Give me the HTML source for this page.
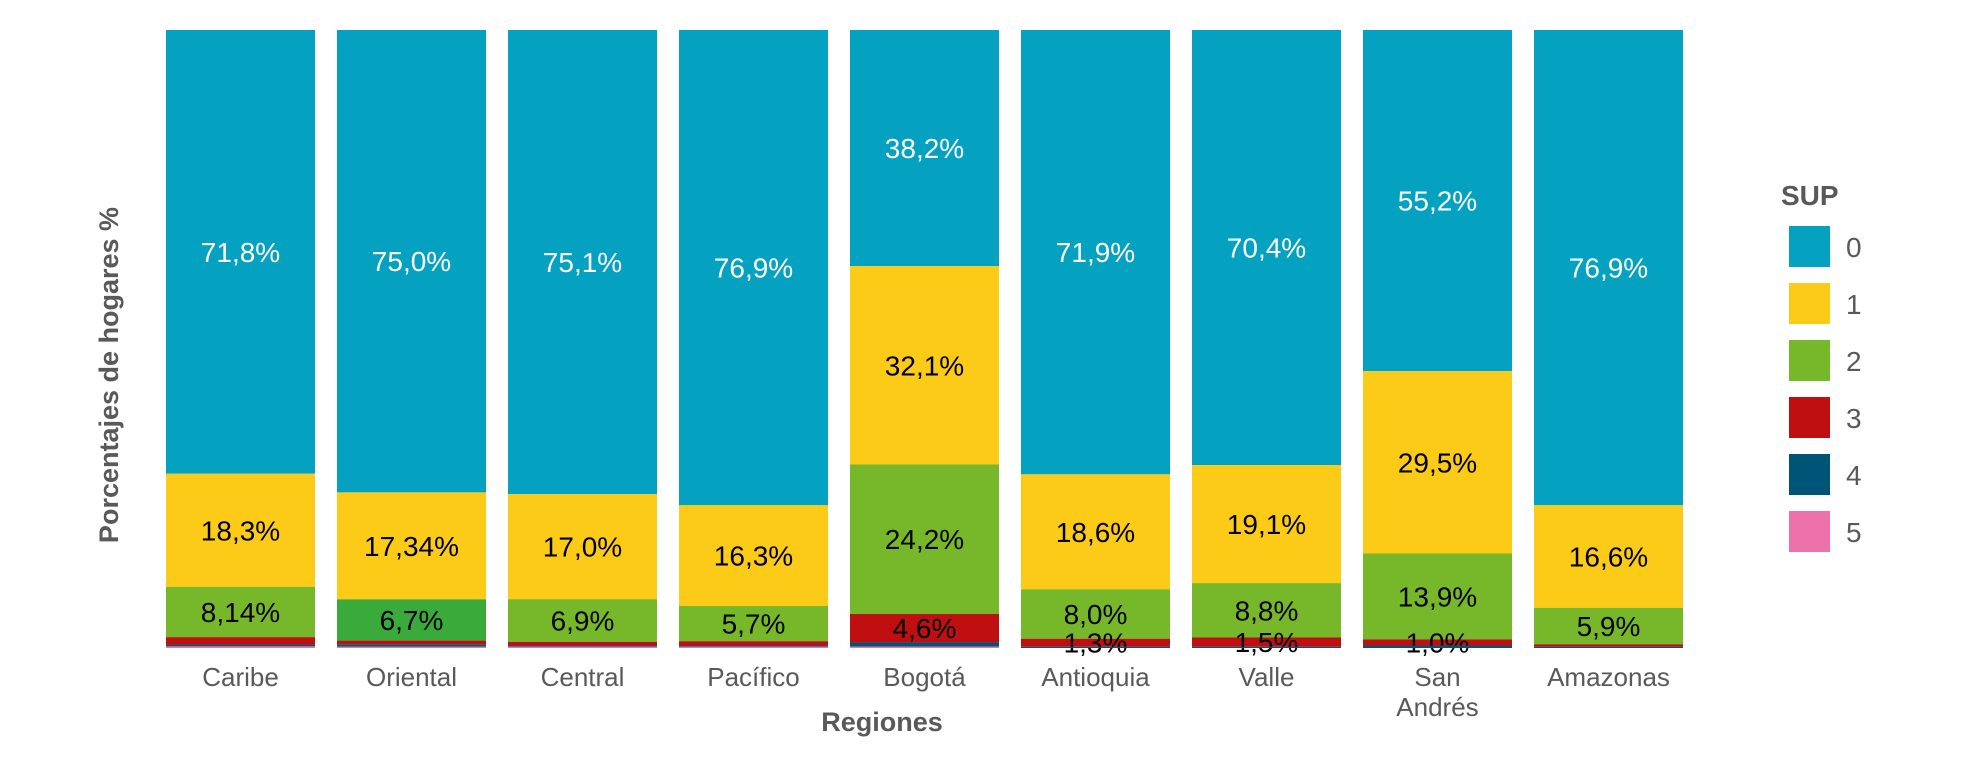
<!DOCTYPE html>
<html><head><meta charset="utf-8"><style>
html,body{margin:0;padding:0;background:#fff;width:1962px;height:760px;overflow:hidden;font-family:"Liberation Sans",sans-serif;}
</style></head><body>
<svg id="chart" width="1962" height="760" xmlns="http://www.w3.org/2000/svg">
<text x="0" y="0" transform="translate(118,375) rotate(-90)" text-anchor="middle" font-size="27" font-weight="bold" fill="#595959">Porcentajes de hogares %</text>
<text x="882" y="731" text-anchor="middle" font-size="27" font-weight="bold" fill="#595959">Regiones</text>
<g id="bars"></g>
<g id="legend">
<text x="1781" y="205" font-size="28" font-weight="bold" fill="#595959">SUP</text>
</g>
</svg>
<script>
const categories = ["Caribe","Oriental","Central","Pacífico","Bogotá","Antioquia","Valle","San|Andrés","Amazonas"];
const seriesNames = ["0","1","2","3","4","5"];
const s0 = [71.8,75.0,75.1,76.9,38.2,71.9,70.4,55.2,76.9];
const s1 = [18.3,17.34,17.0,16.3,32.1,18.6,19.1,29.5,16.6];
const s2 = [8.14,6.7,6.9,5.7,24.2,8.0,8.8,13.9,5.9];
const s3 = [1.2,0.6,0.6,0.7,4.6,1.3,1.5,1.0,0.4];
const s4 = [0.3,0.4,0.2,0.2,0.7,0.2,0.2,0.4,0.2];
const s5 = [0.26,0.2,0.2,0.2,0.2,0.0,0.0,0.0,0.0];
const l0 = ["71,8%","75,0%","75,1%","76,9%","38,2%","71,9%","70,4%","55,2%","76,9%"];
const l1 = ["18,3%","17,34%","17,0%","16,3%","32,1%","18,6%","19,1%","29,5%","16,6%"];
const l2 = ["8,14%","6,7%","6,9%","5,7%","24,2%","8,0%","8,8%","13,9%","5,9%"];
const l3 = ["","","","","4,6%","1,3%","1,5%","1,0%",""];
const series = [s0,s1,s2,s3,s4,s5];
const labels = [l0,l1,l2,l3,null,null];
const colors = ["#04a1c1","#fbcb17","#77b82a","#c00f11","#005577","#ec72a9"];
const NS="http://www.w3.org/2000/svg";
const top0=30, bot=648, x0=166, pitch=171, bw=149;
const xPos = i => x0+i*pitch;
const g=document.getElementById('bars');
categories.forEach((c,i)=>{
  const total = series.reduce((a,s)=>a+s[i],0);
  let y=top0;
  series.forEach((s,k)=>{
    const h=(bot-top0)*s[i]/total;
    const r=document.createElementNS(NS,'rect');
    r.setAttribute('x',xPos(i));r.setAttribute('y',y);r.setAttribute('width',bw);r.setAttribute('height',Math.max(h,0));
    r.setAttribute('fill',(k==2&&i==1)?'#3aaa3a':colors[k]);
    
    
    g.appendChild(r);
    if(labels[k]&&labels[k][i]){
      const t=document.createElementNS(NS,'text');
      t.setAttribute('x',xPos(i)+bw/2);t.setAttribute('y',y+h/2+10);
      t.setAttribute('text-anchor','middle');t.setAttribute('font-size','28');
      t.setAttribute('fill',k==0?'#fff':'#000');
      t.textContent=labels[k][i];
      
      
      g.appendChild(t);
    }
    y+=h;
  });
  const parts=c.split('|');
  parts.forEach((p,j)=>{
    const t=document.createElementNS(NS,'text');
    t.setAttribute('x',xPos(i)+bw/2);t.setAttribute('y',686+j*30);
    t.setAttribute('text-anchor','middle');t.setAttribute('font-size','26');t.setAttribute('fill','#595959');
    t.textContent=p;
    
    
    g.appendChild(t);
  });
});
const lg=document.getElementById('legend');
seriesNames.forEach((n,k)=>{
  const r=document.createElementNS(NS,'rect');
  r.setAttribute('x',1789);r.setAttribute('y',226+k*57);r.setAttribute('width',41);r.setAttribute('height',41);r.setAttribute('fill',colors[k]);
  
  
  lg.appendChild(r);
  const t=document.createElementNS(NS,'text');
  t.setAttribute('x',1846);t.setAttribute('y',257+k*57);t.setAttribute('font-size','28');t.setAttribute('fill','#595959');
  t.textContent=n;
  
  
  lg.appendChild(t);
});
</script>
</body></html>
